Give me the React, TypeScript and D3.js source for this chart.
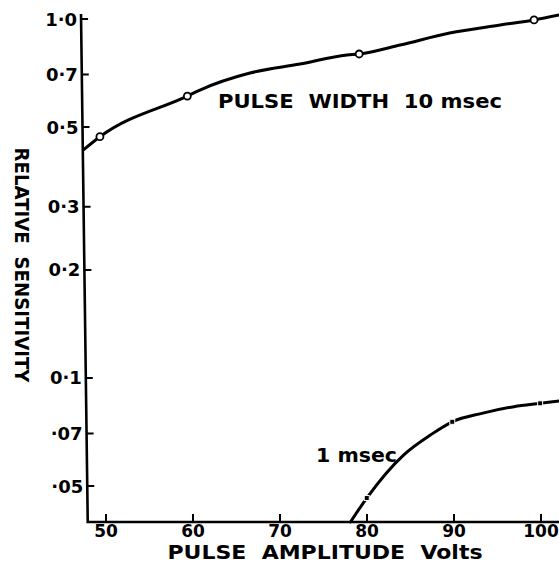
import * as d3 from "d3";

const width = 559;
const height = 565;
const font = "'DejaVu Sans', sans-serif";

const xTicks = [50, 60, 70, 80, 90, 100];
const yTicks = [1.0, 0.7, 0.5, 0.3, 0.2, 0.1, 0.07, 0.05];
const yTickLabels = ["1·0", "0·7", "0·5", "0·3", "0·2", "0·1", "·07", "·05"];

// pulse width 10 msec
const wide10X = [47.4, 49.3, 59.35, 60.8, 66.55, 72.3, 77.7, 79.1, 83.8, 89.5, 95.3, 99.2, 102.1];
const wide10Y = [0.432, 0.47, 0.61, 0.634, 0.707, 0.749, 0.794, 0.799, 0.846, 0.914, 0.962, 0.994, 1.026];
const wide10Marks = [1, 2, 7, 11]; // open circles

// pulse width 1 msec
const narrow1X = [78.1, 79.97, 84.2, 87.3, 89.8, 93.2, 96.9, 99.9, 102.1];
const narrow1Y = [0.0397, 0.0463, 0.061, 0.0694, 0.0755, 0.0797, 0.0832, 0.085, 0.0863];
const narrow1Marks = [1, 4, 7]; // small filled squares

const xExtent = [47.9, 102.1];

const App = () => {
  const xScale = d3.scaleLinear().domain([50, 100]).range([106, 541]);
  const yScale = d3.scaleLog().domain([0.0397, 1]).range([522, 19]);

  const axisY = yScale(0.0397);
  const axisTop = 14;
  // the hand-drawn vertical axis leans a little to the left at the top
  const leftAxisX = d3.scaleLinear().domain([axisTop, axisY]).range([81, xScale(xExtent[0])]);

  const axisPath = d3.path();
  axisPath.moveTo(leftAxisX(axisTop), axisTop);
  axisPath.lineTo(xScale(xExtent[0]), axisY);
  axisPath.lineTo(xScale(xExtent[1]), axisY);

  const tickPath = d3.path();
  yTicks.forEach((t) => {
    const y = yScale(t);
    tickPath.moveTo(leftAxisX(y), y);
    tickPath.lineTo(leftAxisX(y) + 7, y);
  });
  xTicks.forEach((t) => {
    tickPath.moveTo(xScale(t), axisY);
    tickPath.lineTo(xScale(t), axisY - 8);
  });

  const line = d3
    .line<[number, number]>()
    .x((d) => xScale(d[0]))
    .y((d) => yScale(d[1]))
    .curve(d3.curveMonotoneX);

  const wide10 = wide10X.map((x, i) => [x, wide10Y[i]] as [number, number]);
  const narrow1 = narrow1X.map((x, i) => [x, narrow1Y[i]] as [number, number]);

  return (
    <svg
      width={width}
      height={height}
      viewBox={`0 0 ${width} ${height}`}
      style={{ position: "absolute", left: 0, top: 0, background: "#fff" }}
      fontFamily={font}
      fontWeight="bold"
    >
      {/* axes */}
      <path d={axisPath.toString()} fill="none" stroke="#000" strokeWidth={2.6} strokeLinejoin="miter" />
      <path d={tickPath.toString()} fill="none" stroke="#000" strokeWidth={2} />

      <g className="y-labels">
        {yTicks.map((t, i) => {
          const y = yScale(t);
          return (
            <text
              key={t}
              x={leftAxisX(y) - 4}
              y={y}
              textAnchor="end"
              dominantBaseline="central"
              fontSize={18}
            >
              {yTickLabels[i]}
            </text>
          );
        })}
      </g>

      <g className="x-labels">
        {xTicks.map((t) => (
          <text key={t} x={xScale(t)} y={axisY + 9} textAnchor="middle" dominantBaseline="central" fontSize={17}>
            {t}
          </text>
        ))}
      </g>

      <text x={325} y={559} textAnchor="middle" fontSize={19} textLength={315} lengthAdjust="spacingAndGlyphs">
        PULSE{"\u00a0\u00a0"}AMPLITUDE{"\u00a0\u00a0"}Volts
      </text>

      <text
        transform="translate(15,265) rotate(90)"
        textAnchor="middle"
        fontSize={19}
        textLength={235}
        lengthAdjust="spacingAndGlyphs"
      >
        RELATIVE{"\u00a0\u00a0"}SENSITIVITY
      </text>

      {/* curves */}
      <path d={line(wide10) ?? ""} fill="none" stroke="#000" strokeWidth={3} strokeLinecap="round" />
      <path d={line(narrow1) ?? ""} fill="none" stroke="#000" strokeWidth={3} strokeLinecap="round" />

      {wide10Marks.map((i) => (
        <circle
          key={i}
          cx={xScale(wide10X[i])}
          cy={yScale(wide10Y[i])}
          r={3.5}
          fill="#fff"
          stroke="#000"
          strokeWidth={1.8}
        />
      ))}
      {narrow1Marks.map((i) => (
        <rect
          key={i}
          x={xScale(narrow1X[i]) - 2.5}
          y={yScale(narrow1Y[i]) - 2.5}
          width={5}
          height={5}
          fill="#000"
          stroke="#fff"
          strokeWidth={1}
        />
      ))}

      {/* curve labels */}
      <text x={218} y={108} fontSize={20} textLength={284} lengthAdjust="spacingAndGlyphs">
        PULSE{"\u00a0\u00a0"}WIDTH{"\u00a0\u00a0"}10 msec
      </text>
      <text x={316} y={462} fontSize={20} textLength={81} lengthAdjust="spacingAndGlyphs">
        1 msec
      </text>
    </svg>
  );
};

export default App;
